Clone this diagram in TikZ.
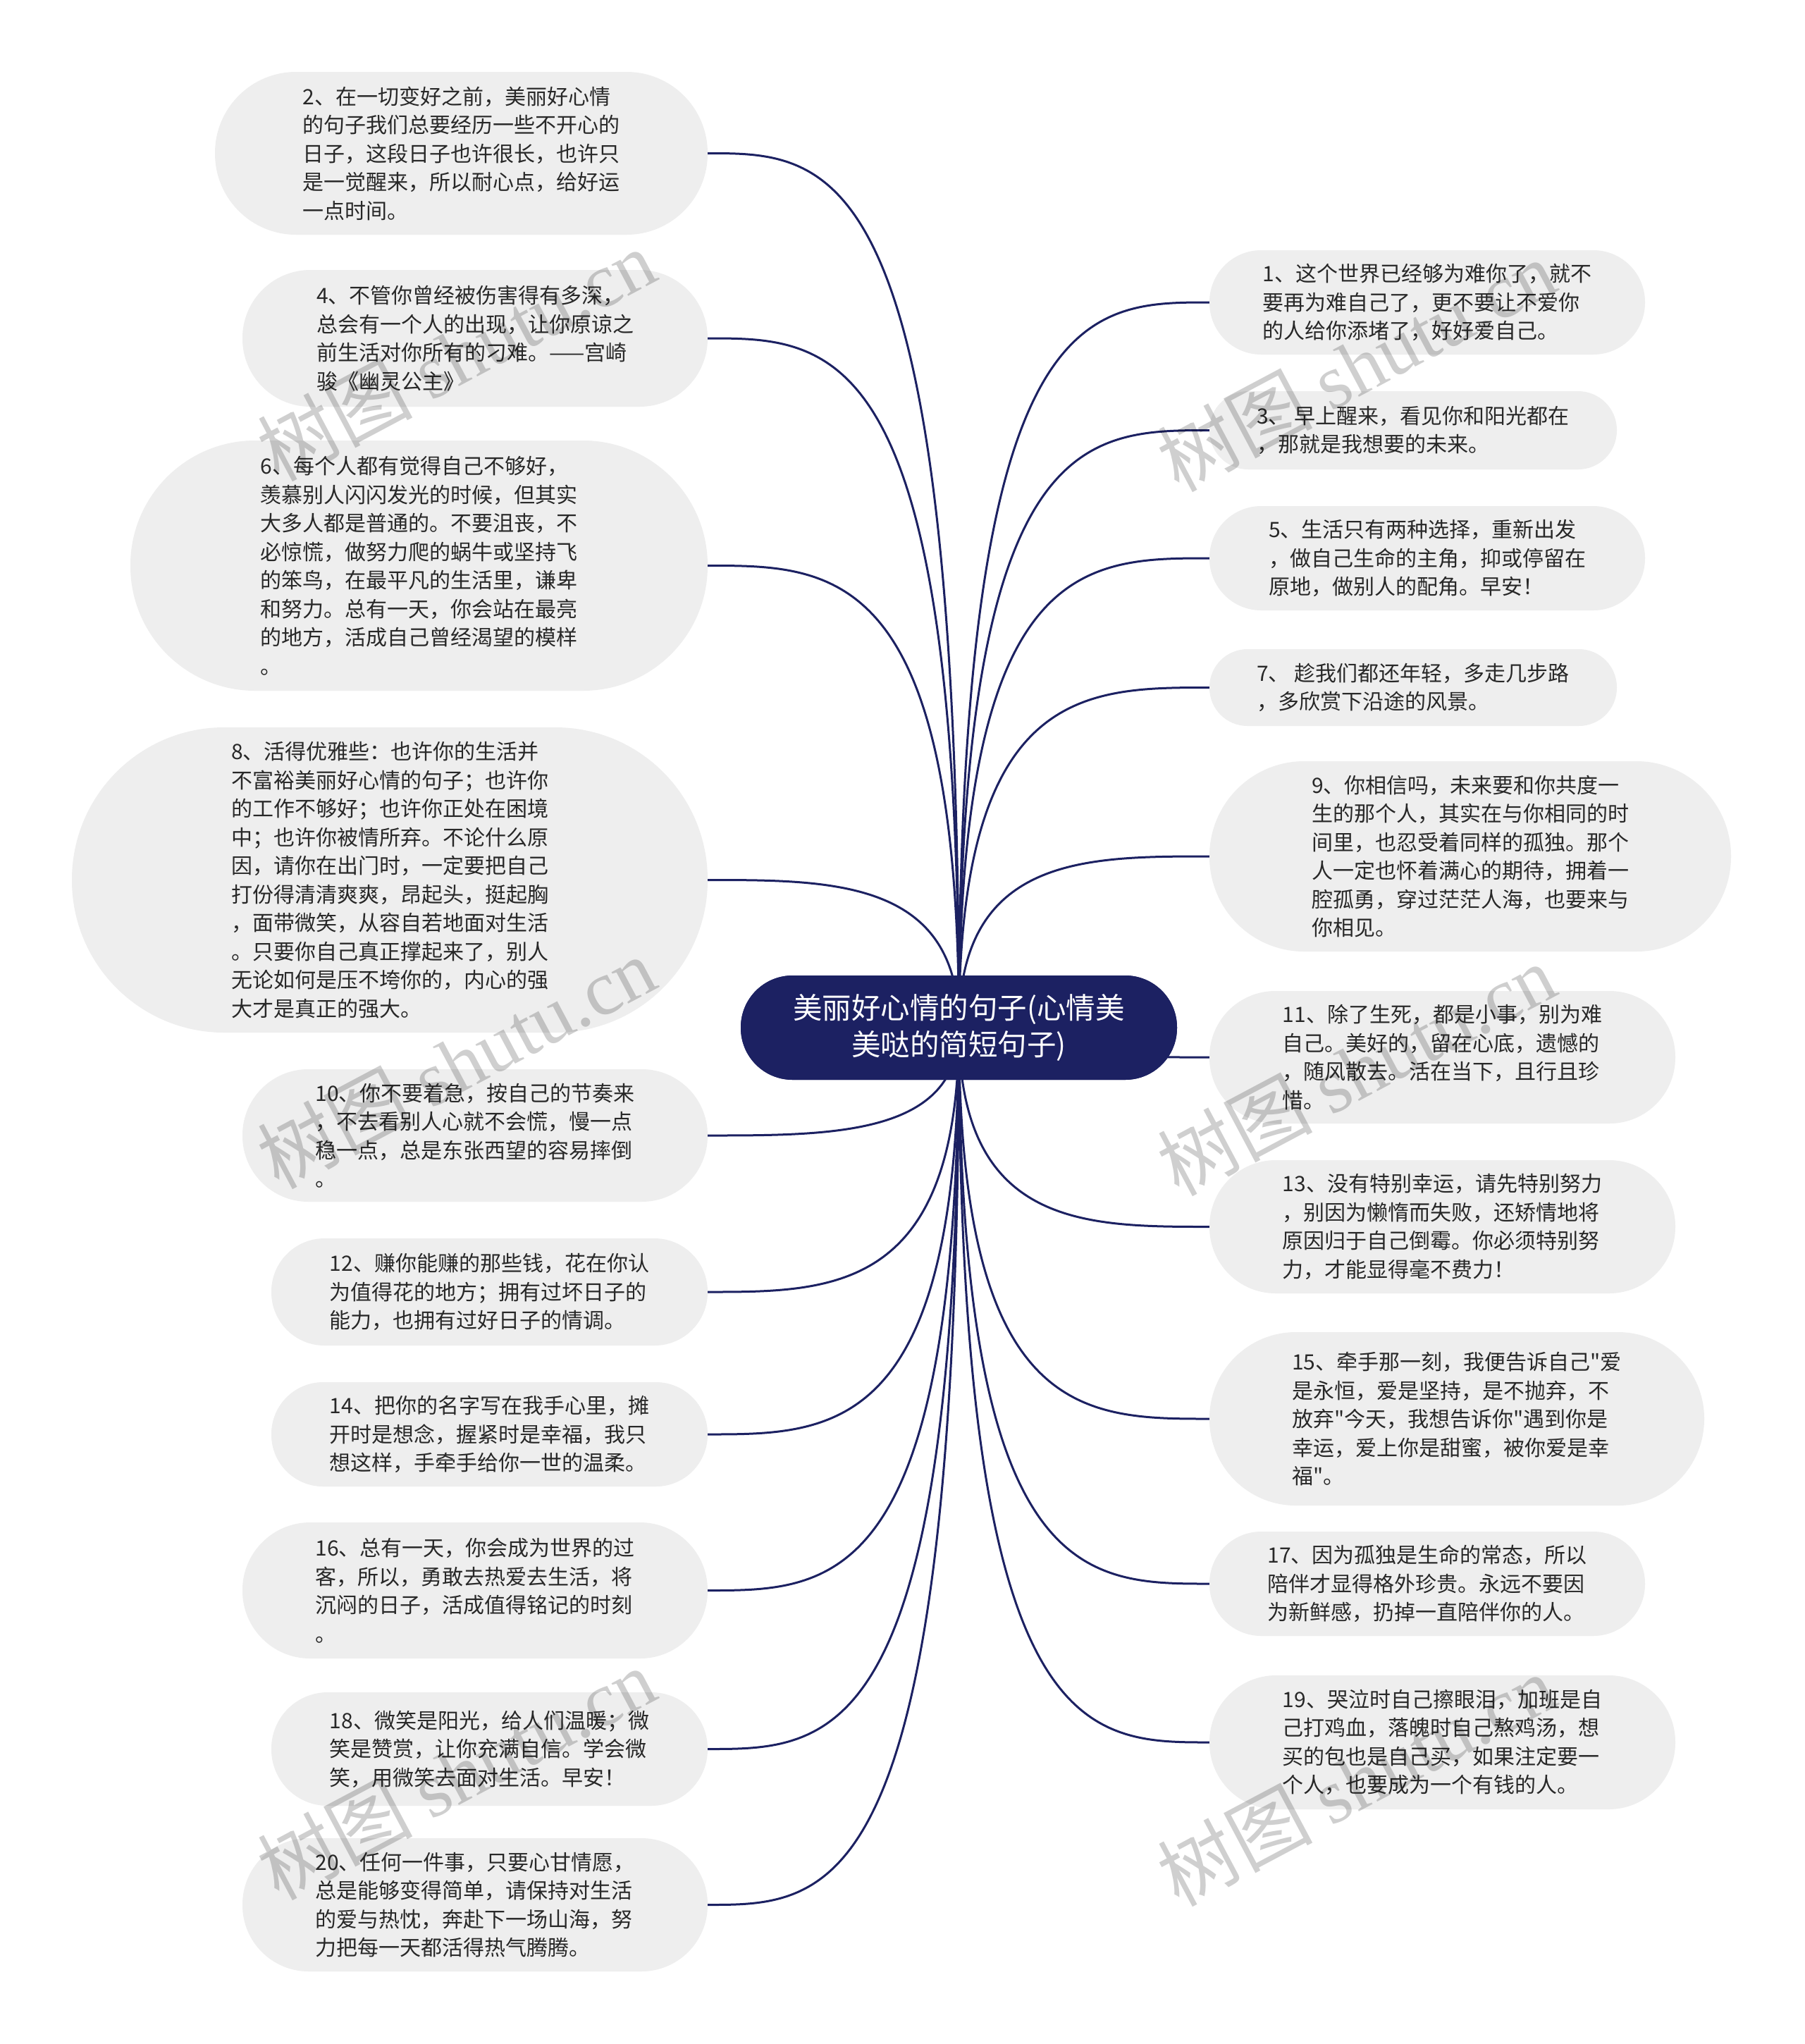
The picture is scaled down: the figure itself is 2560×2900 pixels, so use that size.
\documentclass[tikz,border=0pt]{standalone}
\usepackage{fontspec}
\setmainfont{Noto Sans CJK SC}[Ligatures=TeXOff]
\newfontfamily\wmserif{Liberation Serif}
\usetikzlibrary{calc}
\definecolor{navy}{RGB}{28,33,98}
\definecolor{leaffill}{RGB}{238,238,238}
\definecolor{leaftext}{RGB}{40,40,40}
\tikzset{
  leaf/.style={fill=leaffill, text=leaftext, align=left, inner sep=0pt,
    font=\fontsize{30pt}{40.5pt}\selectfont},
  hub/.style={fill=navy, text=white, align=center, inner sep=0pt,
    font=\fontsize{41.5pt}{52pt}\selectfont},
  edge/.style={draw=navy, line width=3pt},
  wm/.style={text=black, opacity=0.19, rotate=28, inner sep=0pt,
    font=\fontsize{110pt}{120pt}\selectfont}
}
\newcommand\mmleaf[6]{%
  \pgfmathsetmacro\lcx{(#2+#3)/2}\pgfmathsetmacro\lcy{(#4+#5)/2}%
  \pgfmathsetmacro\lw{#3-#2}\pgfmathsetmacro\lh{#5-#4}\pgfmathsetmacro\lr{(#5-#4)/2-0.5}%
  \node[leaf, minimum width=\lw pt, minimum height=\lh pt, rounded corners=\lr pt] (#1) at (\lcx,\lcy) {#6};}
\newcommand\mmedgeL[1]{\draw[edge] (hub.center) .. controls (hub.center |- #1.east) and ($(hub.center |- #1.east)!0.5!(#1.east)$) .. (#1.east);}
\newcommand\mmedgeR[1]{\draw[edge] (hub.center) .. controls (hub.center |- #1.west) and ($(hub.center |- #1.west)!0.5!(#1.west)$) .. (#1.west);}
\newcommand\wmtext{树图 {\wmserif shutu.cn}}
\begin{document}
\begin{tikzpicture}[x=1pt,y=-1pt]
\fill[white] (0,0) rectangle (2560,2900);
\useasboundingbox (0,0) rectangle (2560,2900);
% hub placed first for naming (redrawn on top of the edges later)
\node[hub, minimum width=619pt, minimum height=148pt, rounded corners=73.5pt] (hub) at (1360.5,1458) {美丽好心情的句子(心情美\\美哒的简短句子)};
% left leaves
\mmleaf{n2}{305}{1004}{102}{333}{2、在一切变好之前，美丽好心情\\的句子我们总要经历一些不开心的\\日子，这段日子也许很长，也许只\\是一觉醒来，所以耐心点，给好运\\一点时间。}
\mmleaf{n4}{344}{1004}{383}{577}{4、不管你曾经被伤害得有多深，\\总会有一个人的出现，让你原谅之\\前生活对你所有的刁难。——宫崎\\骏《幽灵公主》}
\mmleaf{n6}{185}{1004}{625}{980}{6、每个人都有觉得自己不够好，\\羡慕别人闪闪发光的时候，但其实\\大多人都是普通的。不要沮丧，不\\必惊慌，做努力爬的蜗牛或坚持飞\\的笨鸟，在最平凡的生活里，谦卑\\和努力。总有一天，你会站在最亮\\的地方，活成自己曾经渴望的模样\\。}
\mmleaf{n8}{102}{1004}{1032}{1465}{8、活得优雅些：也许你的生活并\\不富裕美丽好心情的句子；也许你\\的工作不够好；也许你正处在困境\\中；也许你被情所弃。不论什么原\\因，请你在出门时，一定要把自己\\打份得清清爽爽，昂起头，挺起胸\\，面带微笑，从容自若地面对生活\\。只要你自己真正撑起来了，别人\\无论如何是压不垮你的，内心的强\\大才是真正的强大。}
\mmleaf{n10}{344}{1004}{1517}{1705}{10、你不要着急，按自己的节奏来\\，不去看别人心就不会慌，慢一点\\稳一点，总是东张西望的容易摔倒\\。}
\mmleaf{n12}{385}{1004}{1757}{1909}{12、赚你能赚的那些钱，花在你认\\为值得花的地方；拥有过坏日子的\\能力，也拥有过好日子的情调。}
\mmleaf{n14}{385}{1004}{1961}{2109}{14、把你的名字写在我手心里，摊\\开时是想念，握紧时是幸福，我只\\想这样，手牵手给你一世的温柔。}
\mmleaf{n16}{344}{1004}{2160}{2353}{16、总有一天，你会成为世界的过\\客，所以，勇敢去热爱去生活，将\\沉闷的日子，活成值得铭记的时刻\\。}
\mmleaf{n18}{385}{1004}{2401}{2562}{18、微笑是阳光，给人们温暖；微\\笑是赞赏，让你充满自信。学会微\\笑，用微笑去面对生活。早安！}
\mmleaf{n20}{344}{1004}{2608}{2797}{20、任何一件事，只要心甘情愿，\\总是能够变得简单，请保持对生活\\的爱与热忱，奔赴下一场山海，努\\力把每一天都活得热气腾腾。}
% right leaves
\mmleaf{n1}{1716}{2334}{355}{503}{1、这个世界已经够为难你了，就不\\要再为难自己了，更不要让不爱你\\的人给你添堵了，好好爱自己。}
\mmleaf{n3}{1716}{2294}{555}{666}{3、 早上醒来，看见你和阳光都在\\，那就是我想要的未来。}
\mmleaf{n5}{1716}{2334}{718}{866}{5、生活只有两种选择，重新出发\\，做自己生命的主角，抑或停留在\\原地，做别人的配角。早安！}
\mmleaf{n7}{1716}{2294}{921}{1030}{7、 趁我们都还年轻，多走几步路\\，多欣赏下沿途的风景。}
\mmleaf{n9}{1716}{2456}{1080}{1350}{9、你相信吗，未来要和你共度一\\生的那个人，其实在与你相同的时\\间里，也忍受着同样的孤独。那个\\人一定也怀着满心的期待，拥着一\\腔孤勇，穿过茫茫人海，也要来与\\你相见。}
\mmleaf{n11}{1716}{2377}{1406}{1594}{11、除了生死，都是小事，别为难\\自己。美好的，留在心底，遗憾的\\，随风散去。活在当下，且行且珍\\惜。}
\mmleaf{n13}{1716}{2377}{1646}{1835}{13、没有特别幸运，请先特别努力\\，别因为懒惰而失败，还矫情地将\\原因归于自己倒霉。你必须特别努\\力，才能显得毫不费力！}
\mmleaf{n15}{1716}{2418}{1890}{2136}{15、牵手那一刻，我便告诉自己"爱\\是永恒，爱是坚持，是不抛弃，不\\放弃"今天，我想告诉你"遇到你是\\幸运，爱上你是甜蜜，被你爱是幸\\福"。}
\mmleaf{n17}{1716}{2334}{2173}{2321}{17、因为孤独是生命的常态，所以\\陪伴才显得格外珍贵。永远不要因\\为新鲜感，扔掉一直陪伴你的人。}
\mmleaf{n19}{1716}{2377}{2377}{2567}{19、哭泣时自己擦眼泪，加班是自\\己打鸡血，落魄时自己熬鸡汤，想\\买的包也是自己买，如果注定要一\\个人，也要成为一个有钱的人。}
% connectors
\foreach \n in {n2,n4,n6,n8,n10,n12,n14,n16,n18,n20} {\mmedgeL{\n}}
\foreach \n in {n1,n3,n5,n7,n9,n11,n13,n15,n17,n19} {\mmedgeR{\n}}
% hub on top of the connectors
\node[hub, minimum width=619pt, minimum height=148pt, rounded corners=73.5pt] (hubtop) at (hub.center) {美丽好心情的句子(心情美\\美哒的简短句子)};
% watermarks
\node[wm] (wm1) at (647,503) {\wmtext};
\node[wm] (wm2) at (647,1507) {\wmtext};
\node[wm] (wm3) at (647,2516) {\wmtext};
\node[wm] (wm4) at (1924,518) {\wmtext};
\node[wm] (wm5) at (1924,1517) {\wmtext};
\node[wm] (wm6) at (1924,2525) {\wmtext};
\end{tikzpicture}
\end{document}
